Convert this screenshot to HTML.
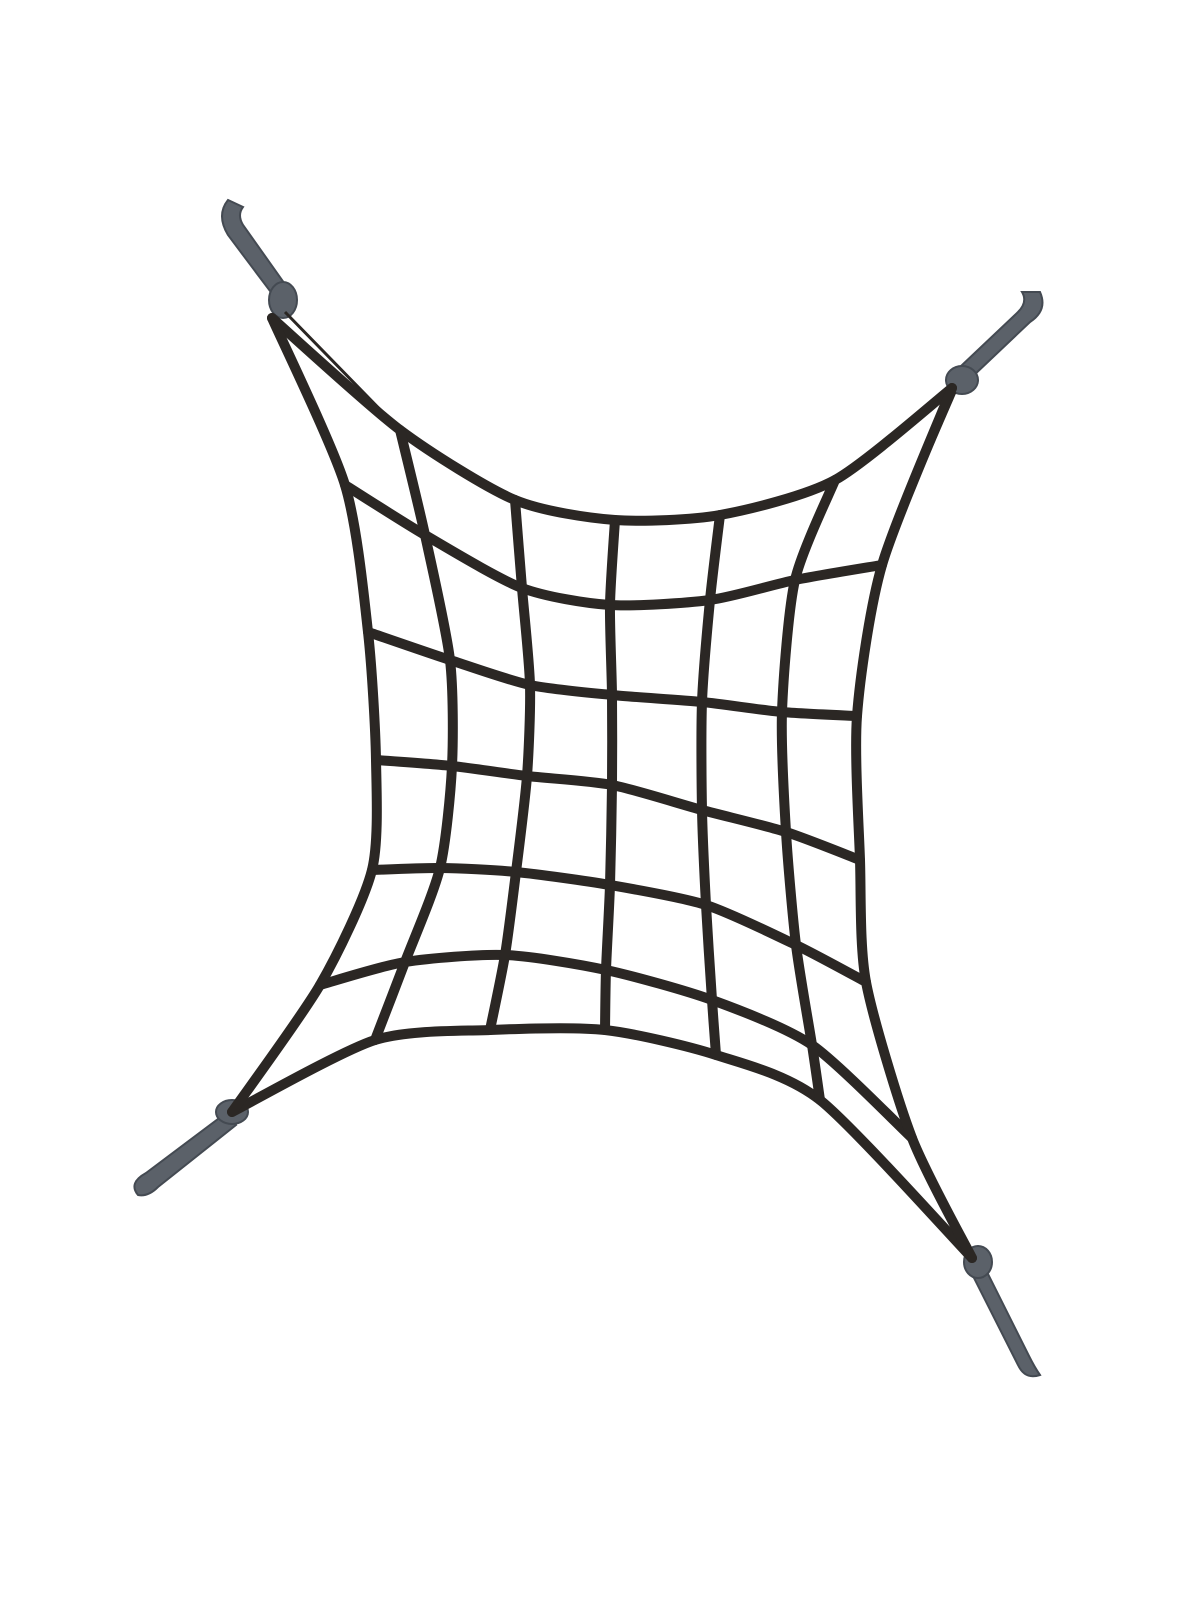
<!DOCTYPE html>
<html><head><meta charset="utf-8"><style>
html,body{margin:0;padding:0;background:#fff;width:1200px;height:1600px;overflow:hidden}
svg{display:block}
</style></head><body>
<svg id="net" width="1200" height="1600" viewBox="0 0 1200 1600" xmlns="http://www.w3.org/2000/svg">
<g id="hooks" fill="#5b6169" stroke="#444a52" stroke-width="2">
 <g>
  <path d="M228,200 q-12,15 0,35 l45,60 l14,-8 l-44,-62 q-6,-10 0,-18 z"/>
  <ellipse cx="283" cy="300" rx="14" ry="18"/>
 </g>
 <g>
  <path d="M1040,292 q8,18 -10,30 l-58,55 l-12,-10 l58,-55 q10,-10 4,-20 z"/>
  <ellipse cx="962" cy="380" rx="16" ry="14"/>
 </g>
 <g>
  <path d="M138,1195 q-10,-12 8,-22 l80,-60 l10,12 l-78,62 q-10,10 -20,8 z"/>
  <ellipse cx="232" cy="1112" rx="16" ry="12"/>
 </g>
 <g>
  <path d="M1040,1375 q-15,5 -22,-10 l-48,-95 l13,-6 l46,92 q6,12 11,19 z"/>
  <ellipse cx="978" cy="1262" rx="14" ry="16"/>
 </g>
</g>
<g id="cords" stroke="#2a2623" stroke-width="3" fill="none">
 <line x1="285" y1="312" x2="400" y2="430"/>
 <line x1="955" y1="392" x2="880" y2="565"/>
 <line x1="240" y1="1105" x2="320" y2="985"/>
 <line x1="970" y1="1255" x2="820" y2="1100"/>
</g>
<g id="grid" stroke="#2b2724" stroke-width="10" fill="none" stroke-linejoin="round" stroke-linecap="round"></g>
</svg>
<script>
const rows = [
 [[272,318],[400,430],[515,500],[615,520],[720,515],[835,480],[952,388]],
 [[345,485],[425,535],[522,588],[610,605],[710,600],[795,580],[882,565]],
 [[368,632],[450,660],[530,685],[612,695],[702,702],[782,712],[857,716]],
 [[376,760],[452,766],[527,776],[612,785],[702,810],[786,832],[860,860]],
 [[372,870],[440,868],[516,872],[610,885],[706,905],[796,945],[866,982]],
 [[320,985],[405,962],[505,955],[606,970],[712,1000],[812,1045],[912,1138]],
 [[232,1112],[375,1040],[490,1030],[605,1030],[716,1055],[820,1100],[972,1258]]
];
function smooth(pts){
 let d="M"+pts[0][0]+","+pts[0][1];
 for(let i=0;i<pts.length-1;i++){
  const p0=pts[Math.max(i-1,0)],p1=pts[i],p2=pts[i+1],p3=pts[Math.min(i+2,pts.length-1)];
  const c1=[p1[0]+(p2[0]-p0[0])/8,p1[1]+(p2[1]-p0[1])/8];
  const c2=[p2[0]-(p3[0]-p1[0])/8,p2[1]-(p3[1]-p1[1])/8];
  d+=" C"+c1+" "+c2+" "+p2;
 }
 return d;
}
const g=document.getElementById('grid');
const NS="http://www.w3.org/2000/svg";
rows.forEach((r,i)=>{
 const p=document.createElementNS(NS,'path');
 p.setAttribute('d',smooth(r));
 
 
 g.appendChild(p);
});
for(let j=0;j<7;j++){
 const col=rows.map(r=>r[j]);
 const p=document.createElementNS(NS,'path');
 p.setAttribute('d',smooth(col));
 
 
 g.appendChild(p);
}
</script>
</body></html>
